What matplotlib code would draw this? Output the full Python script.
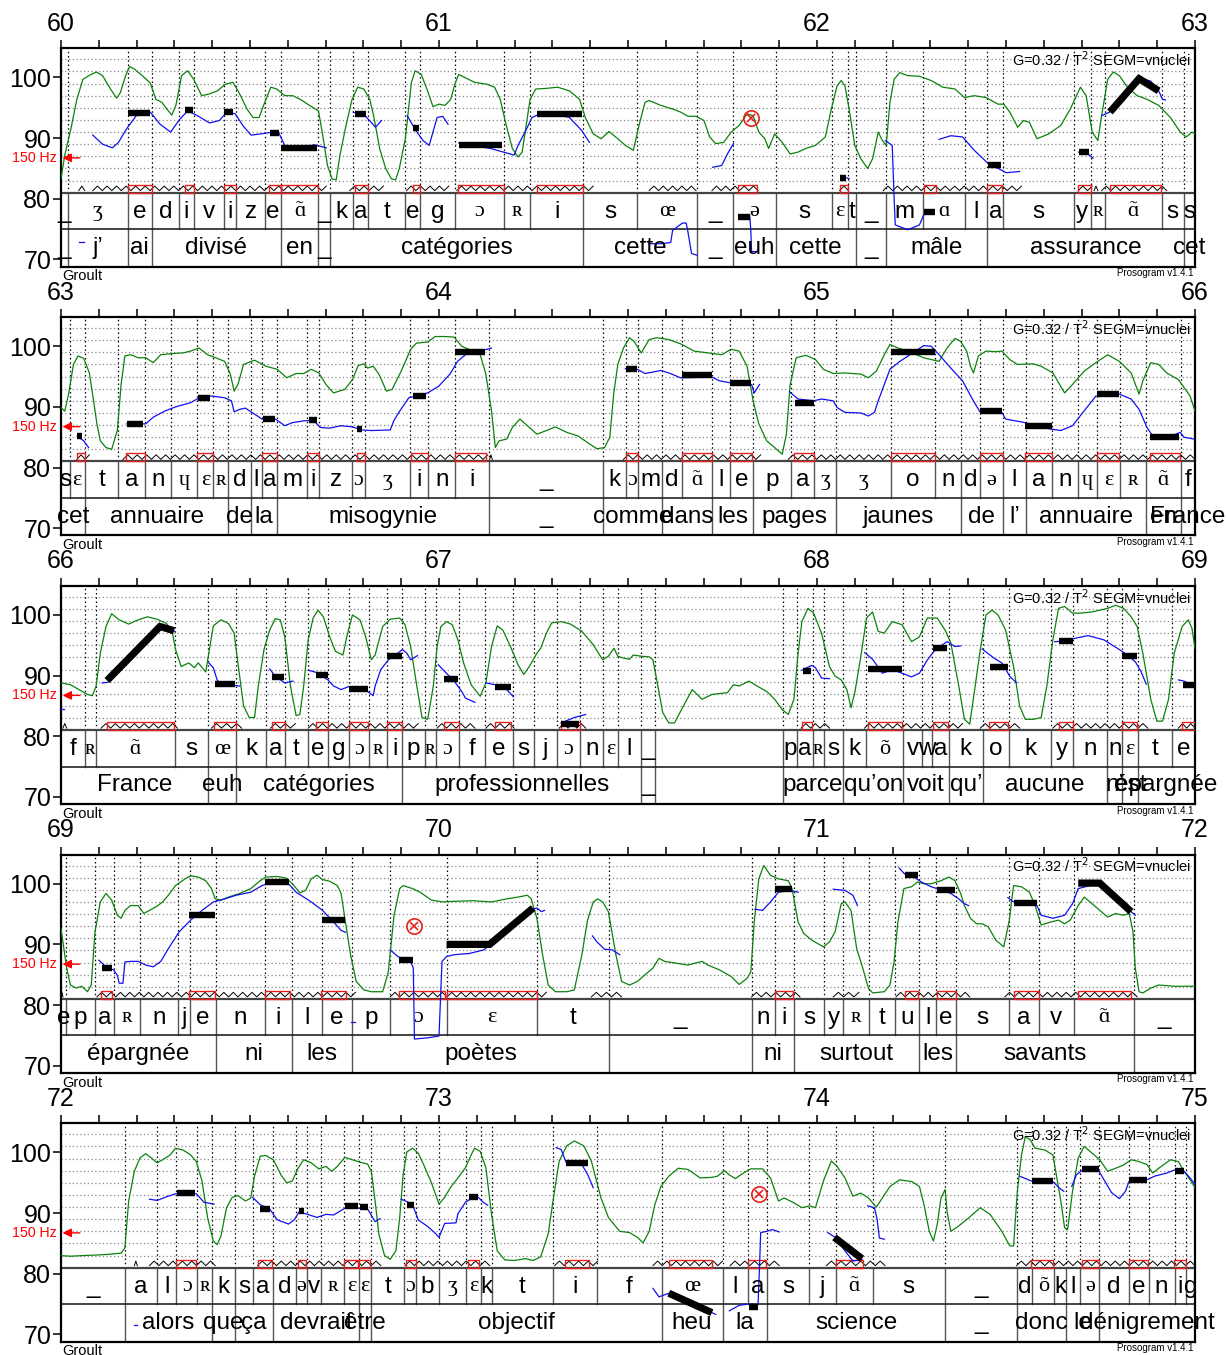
import numpy as np
import matplotlib.pyplot as plt
from matplotlib.patches import Rectangle
from matplotlib.ticker import MultipleLocator

plt.rcParams['font.family'] = ['Liberation Sans', 'DejaVu Sans']

# ---------------- panel 1 : 60-63 s ----------------
p1_phone_t = [60.000, 60.018, 60.176, 60.241, 60.311, 60.351, 60.431, 60.462, 60.541, 60.581, 60.681, 60.712, 60.773,
              60.812, 60.911, 60.951, 61.042, 61.173, 61.241, 61.382, 61.523, 61.683, 61.777, 61.891, 62.041, 62.081,
              62.102, 62.182, 62.280, 62.391, 62.451, 62.492, 62.679, 62.725, 62.761, 62.912, 62.970, 63.000]
p1_phones = ['_', 'ʒ', 'e', 'd', 'i', 'v', 'i', 'z', 'e', 'ɑ̃', '_', 'k', 'a', 't', 'e', 'g', 'ɔ', 'ʀ', 'i', 's',
             'œ', '_', 'ə', 's', 'ɛ', 't', '_', 'm', 'ɑ', 'l', 'a', 's', 'y', 'ʀ', 'ɑ̃', 's', 's']
p1_word_t = [60.000, 60.018, 60.176, 60.241, 60.581, 60.681, 60.712, 61.382, 61.683, 61.777, 61.891, 62.102, 62.182,
             62.451, 62.970, 63.000]
p1_words = ['_', 'j’', 'ai', 'divisé', 'en', '_', 'catégories', 'cette', '_', 'euh', 'cette', '_', 'mâle',
            'assurance', 'cet']
p1_green = [(60.000, 83.3), (60.010, 87.2), (60.026, 91.5), (60.042, 96.4), (60.058, 99.7), (60.079, 100.5),
            (60.094, 100.9), (60.110, 100.3), (60.131, 98.1), (60.147, 96.6), (60.157, 97.5), (60.171, 100.3),
            (60.181, 101.8), (60.194, 101.4), (60.215, 100.3), (60.236, 99.1), (60.251, 96.4), (60.267, 95.9),
            (60.280, 94.8), (60.293, 93.8), (60.304, 95.4), (60.319, 100.3), (60.335, 101.1), (60.351, 99.7),
            (60.372, 97.0), (60.393, 97.3), (60.414, 97.8), (60.435, 98.9), (60.455, 99.2), (60.471, 97.5),
            (60.492, 94.8), (60.508, 93.4), (60.524, 93.4), (60.539, 95.9), (60.555, 98.4), (60.571, 98.1),
            (60.592, 97.0), (60.613, 97.0), (60.633, 96.4), (60.665, 95.1), (60.681, 94.5), (60.691, 91.0),
            (60.705, 85.5), (60.717, 83.3), (60.728, 83.1), (60.738, 87.2), (60.754, 92.1), (60.770, 96.4),
            (60.785, 98.4), (60.801, 98.1), (60.817, 96.4), (60.827, 93.7), (60.843, 88.3), (60.859, 85.0),
            (60.874, 83.3), (60.885, 83.1), (60.895, 85.0), (60.911, 89.9), (60.927, 99.2), (60.937, 101.1),
            (60.953, 100.5), (60.968, 98.1), (60.984, 95.2), (61.000, 95.6), (61.016, 95.4), (61.031, 96.4),
            (61.042, 98.9), (61.052, 100.5), (61.068, 100.0), (61.094, 99.2), (61.126, 98.9), (61.147, 98.4),
            (61.162, 96.4), (61.178, 92.1), (61.194, 88.3), (61.209, 86.9), (61.220, 87.7), (61.241, 96.4),
            (61.256, 98.1), (61.283, 98.2), (61.314, 98.4), (61.345, 97.8), (61.372, 96.4), (61.387, 93.4),
            (61.408, 90.7), (61.429, 89.9), (61.450, 91.1), (61.473, 89.9), (61.493, 88.8), (61.514, 88.0),
            (61.530, 92.3), (61.545, 95.9), (61.556, 96.2), (61.587, 95.4), (61.618, 94.8), (61.639, 94.3),
            (61.659, 93.6), (61.680, 93.6), (61.701, 92.9), (61.716, 90.2), (61.732, 89.1), (61.753, 89.3),
            (61.773, 91.0), (61.794, 92.1), (61.815, 94.0), (61.831, 93.7), (61.846, 91.0), (61.862, 89.9),
            (61.872, 88.3), (61.888, 90.7), (61.908, 89.3), (61.929, 87.4), (61.950, 87.7), (61.970, 88.3),
            (61.996, 88.8), (62.022, 90.2), (62.038, 94.8), (62.053, 98.6), (62.064, 99.5), (62.074, 98.6),
            (62.085, 94.8), (62.100, 88.8), (62.116, 86.6), (62.134, 85.0), (62.147, 86.6), (62.162, 91.0),
            (62.173, 89.6), (62.183, 88.8), (62.193, 95.9), (62.204, 99.7), (62.219, 100.8), (62.240, 100.3),
            (62.271, 100.2), (62.302, 99.5), (62.333, 98.4), (62.365, 98.1), (62.390, 96.7), (62.416, 97.0),
            (62.447, 96.7), (62.479, 95.6), (62.494, 95.6), (62.510, 94.3), (62.531, 91.8), (62.546, 92.9),
            (62.562, 92.6), (62.582, 89.9), (62.613, 90.7), (62.645, 92.1), (62.670, 94.8), (62.697, 98.4),
            (62.712, 97.0), (62.728, 91.0), (62.743, 89.6), (62.753, 93.7), (62.769, 99.7), (62.784, 100.9),
            (62.800, 100.3), (62.821, 98.4), (62.847, 97.0), (62.873, 96.4), (62.904, 95.4), (62.935, 93.4),
            (62.961, 91.0), (62.977, 90.2), (62.992, 91.0), (63.000, 90.7)]
p1_blue = [
    [(60.047, 72.8), (60.060, 72.8)],
    [(60.084, 90.5), (60.110, 89.0), (60.136, 88.4), (60.152, 89.3), (60.173, 91.5), (60.199, 93.7), (60.236, 94.3),
     (60.262, 92.3), (60.290, 91.0), (60.314, 93.1), (60.335, 94.5), (60.361, 93.7), (60.393, 92.5), (60.419, 92.9),
     (60.440, 94.4), (60.461, 94.0), (60.482, 92.0), (60.503, 90.5), (60.529, 90.7), (60.560, 91.0), (60.576, 90.9),
     (60.592, 88.8), (60.634, 88.4), (60.670, 88.9), (60.702, 88.4)],
    [(60.773, 94.3), (60.806, 93.6), (60.832, 91.8), (60.848, 92.9)],
    [(60.916, 93.7), (60.937, 91.4), (60.958, 89.6), (60.974, 88.8), (60.984, 91.0), (60.995, 93.4), (61.010, 93.6),
     (61.024, 92.3)],
    [(61.052, 89.2), (61.136, 88.3), (61.188, 87.4), (61.199, 87.2), (61.209, 88.8), (61.230, 91.3), (61.246, 93.4),
     (61.267, 94.0), (61.304, 94.0), (61.345, 93.4), (61.377, 91.3), (61.398, 89.3)],
    [(61.556, 72.6), (61.587, 72.6), (61.613, 72.8), (61.618, 74.8), (61.644, 76.0), (61.654, 76.0), (61.659, 74.4),
     (61.668, 71.0), (61.682, 70.7)],
    [(61.724, 85.2), (61.748, 85.5), (61.763, 87.4), (61.779, 89.1)],
    [(61.792, 77.2), (61.822, 77.4), (61.825, 74.6), (61.827, 71.3), (61.841, 71.3)],
    [(62.076, 83.5), (62.085, 83.3)],
    [(62.181, 89.6), (62.199, 88.8), (62.204, 80.1), (62.207, 75.7), (62.240, 74.9), (62.271, 75.7), (62.282, 77.3),
     (62.292, 77.9)],
    [(62.323, 89.8), (62.354, 90.4), (62.385, 90.2), (62.416, 88.0), (62.448, 86.1), (62.463, 85.5), (62.489, 84.7),
     (62.500, 84.3), (62.536, 84.5)],
    [(62.692, 87.7), (62.717, 87.4), (62.730, 86.7)],
    [(62.753, 93.7), (62.774, 94.3), (62.852, 99.9), (62.883, 99.4), (62.904, 97.8), (62.914, 96.4), (62.922, 96.3)],
]
p1_style = [
    [(60.176, 94.1), (60.236, 94.1)], [(60.327, 94.6), (60.348, 94.6)], [(60.432, 94.3), (60.455, 94.3)],
    [(60.553, 90.9), (60.576, 90.9)], [(60.581, 88.3), (60.677, 88.3)], [(60.778, 93.9), (60.806, 93.9)],
    [(60.932, 91.7), (60.948, 91.7)], [(61.052, 88.8), (61.167, 88.8)], [(61.258, 93.9), (61.377, 93.9)],
    [(61.792, 77.0), (61.822, 77.0)], [(62.062, 83.5), (62.076, 83.5)], [(62.282, 77.9), (62.311, 77.9)],
    [(62.453, 85.5), (62.486, 85.5)], [(62.692, 87.7), (62.719, 87.7)],
    [(62.775, 94.3), (62.852, 99.8), (62.904, 97.8)],
]
p1_nuclei = [(60.176, 60.241), (60.327, 60.351), (60.431, 60.462), (60.551, 60.581), (60.581, 60.681),
             (60.777, 60.812), (60.932, 60.951), (61.050, 61.173), (61.258, 61.382), (61.791, 61.842),
             (62.060, 62.081), (62.282, 62.316), (62.451, 62.489), (62.691, 62.725), (62.776, 62.911)]
p1_zigzag = [(60.047, 60.063), (60.084, 60.702), (60.764, 60.853), (60.914, 61.026), (61.047, 61.408),
             (61.556, 61.680), (61.722, 61.844), (62.060, 62.083), (62.175, 62.541), (62.691, 62.728),
             (62.733, 62.743), (62.753, 62.925)]
p1_marks = [(61.826, 93.3)]

# ---------------- panel 2 : 63-66 s ----------------
p2_phone_t = [63.000, 63.023, 63.063, 63.152, 63.222, 63.292, 63.361, 63.403, 63.443, 63.502, 63.532, 63.572, 63.652,
              63.682, 63.771, 63.803, 63.923, 63.972, 64.043, 64.132, 64.433, 64.496, 64.527, 64.590, 64.642, 64.722,
              64.771, 64.831, 64.932, 64.992, 65.051, 65.196, 65.311, 65.381, 65.430, 65.492, 65.552, 65.621, 65.690,
              65.741, 65.801, 65.870, 65.962, 66.000]
p2_phones = ['s', 'ɛ', 't', 'a', 'n', 'ɥ', 'ɛ', 'ʀ', 'd', 'l', 'a', 'm', 'i', 'z', 'ɔ', 'ʒ', 'i', 'n', 'i', '_',
             'k', 'ɔ', 'm', 'd', 'ɑ̃', 'l', 'e', 'p', 'a', 'ʒ', 'ʒ', 'o', 'n', 'd', 'ə', 'l', 'a', 'n', 'ɥ', 'ɛ',
             'ʀ', 'ɑ̃', 'f']
p2_word_t = [63.000, 63.063, 63.443, 63.502, 63.572, 64.132, 64.433, 64.590, 64.722, 64.831, 65.051, 65.381, 65.492,
             65.552, 65.870, 65.962, 66.000]
p2_words = ['cet', 'annuaire', 'de', 'la', 'misogynie', '_', 'comme', 'dans', 'les', 'pages', 'jaunes', 'de', 'l’',
            'annuaire', 'en', 'France']
p2_green = [(63.000, 89.9), (63.010, 89.3), (63.020, 92.1), (63.033, 97.0), (63.045, 98.4), (63.060, 98.0),
            (63.075, 95.6), (63.085, 91.5), (63.095, 87.2), (63.104, 84.4), (63.119, 83.3), (63.134, 83.0),
            (63.149, 86.1), (63.159, 93.7), (63.169, 98.4), (63.184, 98.6), (63.204, 98.1), (63.224, 98.1),
            (63.244, 97.3), (63.264, 98.6), (63.294, 98.8), (63.323, 98.9), (63.343, 99.2), (63.365, 99.7),
            (63.388, 98.6), (63.413, 98.0), (63.433, 97.5), (63.448, 95.4), (63.458, 92.6), (63.468, 93.7),
            (63.483, 97.0), (63.512, 97.7), (63.542, 96.7), (63.572, 96.2), (63.597, 94.8), (63.622, 95.5),
            (63.642, 95.5), (63.662, 96.2), (63.682, 95.6), (63.701, 93.7), (63.721, 92.3), (63.751, 92.9),
            (63.771, 94.5), (63.786, 96.8), (63.801, 97.1), (63.811, 96.4), (63.826, 96.7), (63.841, 95.4),
            (63.861, 92.6), (63.876, 92.9), (63.900, 95.9), (63.925, 99.5), (63.940, 100.5), (63.970, 100.7),
            (63.990, 101.6), (64.015, 101.6), (64.040, 101.5), (64.060, 100.0), (64.090, 99.2), (64.109, 98.6),
            (64.124, 95.4), (64.139, 89.3), (64.149, 83.3), (64.159, 84.4), (64.179, 84.7), (64.194, 86.6),
            (64.214, 88.0), (64.239, 86.6), (64.259, 85.5), (64.284, 86.1), (64.308, 86.7), (64.338, 85.8),
            (64.368, 85.2), (64.398, 83.9), (64.418, 83.1), (64.438, 83.3), (64.452, 85.0), (64.462, 92.1),
            (64.473, 97.0), (64.488, 99.7), (64.504, 101.4), (64.516, 100.8), (64.535, 98.9), (64.556, 101.1),
            (64.576, 101.4), (64.608, 101.1), (64.639, 100.4), (64.675, 99.2), (64.711, 98.9), (64.748, 98.6),
            (64.773, 99.5), (64.794, 99.2), (64.815, 96.7), (64.831, 91.0), (64.846, 87.2), (64.867, 84.4),
            (64.888, 83.3), (64.908, 82.2), (64.919, 85.5), (64.929, 93.7), (64.945, 98.1), (64.971, 98.5),
            (64.996, 97.8), (65.017, 96.2), (65.043, 95.5), (65.074, 95.6), (65.116, 95.4), (65.136, 94.8),
            (65.157, 95.9), (65.178, 98.6), (65.193, 100.3), (65.214, 99.7), (65.240, 99.2), (65.282, 98.1),
            (65.302, 97.8), (65.323, 97.5), (65.344, 99.7), (65.365, 101.3), (65.380, 100.8), (65.396, 99.2),
            (65.406, 96.7), (65.414, 95.6), (65.427, 98.4), (65.447, 99.2), (65.473, 99.1), (65.489, 99.2),
            (65.510, 97.8), (65.530, 97.0), (65.572, 97.1), (65.593, 96.7), (65.624, 95.6), (65.655, 92.3),
            (65.676, 93.7), (65.707, 95.9), (65.738, 97.3), (65.769, 98.6), (65.800, 97.5), (65.831, 95.6),
            (65.852, 92.1), (65.862, 94.3), (65.883, 97.3), (65.904, 97.0), (65.925, 95.6), (65.956, 94.5),
            (65.987, 91.8), (66.000, 89.3)]
p2_blue = [
    [(63.043, 85.2), (63.060, 84.4), (63.073, 83.3)],
    [(63.174, 87.2), (63.224, 87.2), (63.244, 88.3), (63.274, 89.3), (63.303, 90.0), (63.343, 90.7), (63.363, 91.4),
     (63.398, 91.8), (63.433, 91.5), (63.451, 91.0), (63.458, 89.2), (63.473, 89.6), (63.488, 89.8), (63.512, 88.8),
     (63.532, 88.0), (63.567, 88.0), (63.592, 86.9), (63.612, 87.4), (63.642, 87.7), (63.667, 87.8), (63.687, 86.6),
     (63.711, 86.5), (63.741, 86.9), (63.771, 86.7), (63.796, 86.2), (63.821, 86.1), (63.871, 86.2), (63.881, 87.8),
     (63.896, 89.3), (63.920, 91.5), (63.940, 91.8), (63.970, 92.3), (63.999, 93.4), (64.029, 95.4), (64.049, 97.5),
     (64.070, 98.6), (64.109, 99.2), (64.139, 99.7)],
    [(64.493, 96.3), (64.525, 96.2), (64.545, 95.5), (64.587, 96.0), (64.608, 95.6), (64.639, 94.8), (64.722, 94.9),
     (64.742, 94.3), (64.794, 93.7), (64.827, 93.7), (64.834, 92.3), (64.848, 93.7)],
    [(64.927, 92.5), (64.950, 91.3), (64.991, 91.0), (65.012, 91.3), (65.043, 91.0), (65.053, 89.9), (65.074, 89.1),
     (65.116, 89.0), (65.136, 88.5), (65.152, 89.1), (65.162, 91.0), (65.178, 93.7), (65.193, 96.2), (65.219, 97.5),
     (65.261, 99.2), (65.282, 100.1), (65.302, 100.0), (65.323, 98.6), (65.354, 96.4), (65.385, 94.3), (65.411, 91.3),
     (65.432, 89.1), (65.489, 89.1), (65.499, 88.0), (65.551, 87.4), (65.593, 86.6), (65.645, 86.1), (65.676, 86.9),
     (65.696, 88.5), (65.738, 91.8), (65.800, 92.1), (65.831, 91.3), (65.852, 89.6), (65.873, 86.6), (65.888, 85.2),
     (65.945, 85.4), (65.961, 85.8), (65.971, 85.0), (65.997, 84.7)],
]
p2_style = [
    [(63.043, 85.2), (63.055, 85.2)], [(63.174, 87.2), (63.216, 87.2)], [(63.363, 91.5), (63.395, 91.5)],
    [(63.534, 88.0), (63.567, 88.0)], [(63.655, 87.8), (63.677, 87.8)], [(63.784, 86.4), (63.796, 86.4)],
    [(63.930, 91.8), (63.965, 91.8)], [(64.043, 99.0), (64.121, 99.0)], [(64.496, 96.3), (64.525, 96.3)],
    [(64.642, 95.2), (64.722, 95.2)], [(64.770, 93.9), (64.825, 93.9)], [(64.941, 90.7), (64.991, 90.7)],
    [(65.196, 99.1), (65.311, 99.1)], [(65.432, 89.3), (65.489, 89.3)], [(65.551, 86.9), (65.621, 86.9)],
    [(65.740, 92.2), (65.800, 92.2)], [(65.881, 85.0), (65.958, 85.0)],
]
p2_nuclei = [(63.042, 63.063), (63.172, 63.222), (63.361, 63.403), (63.532, 63.572), (63.652, 63.682),
             (63.783, 63.803), (63.927, 63.972), (64.043, 64.124), (64.496, 64.527), (64.642, 64.722),
             (64.770, 64.827), (64.939, 64.991), (65.196, 65.311), (65.430, 65.491), (65.551, 65.621),
             (65.740, 65.800), (65.881, 65.961)]
p2_zigzag = [(63.042, 63.075), (63.164, 64.129), (64.134, 64.141), (64.488, 64.851), (64.924, 66.000)]
p2_marks = []

# ---------------- panel 3 : 66-69 s ----------------
p3_phone_t = [66.000, 66.063, 66.093, 66.301, 66.390, 66.463, 66.542, 66.592, 66.654, 66.706, 66.763, 66.814, 66.863,
              66.902, 66.962, 66.992, 67.052, 67.122, 67.195, 67.252, 67.311, 67.374, 67.435, 67.473, 67.535, 67.572,
              67.909, 67.948, 67.989, 68.018, 68.070, 68.130, 68.228, 68.278, 68.305, 68.350, 68.438, 68.508, 68.619,
              68.676, 68.768, 68.808, 68.848, 68.938, 69.000]
p3_phones = ['f', 'ʀ', 'ɑ̃', 's', 'œ', 'k', 'a', 't', 'e', 'g', 'ɔ', 'ʀ', 'i', 'p', 'ʀ', 'ɔ', 'f', 'e', 's', 'j',
             'ɔ', 'n', 'ɛ', 'l', '_', '', 'p', 'a', 'ʀ', 's', 'k', 'õ', 'v', 'w', 'a', 'k', 'o', 'k', 'y', 'n',
             'n', 'ɛ', 't', 'e']
p3_word_t = [66.000, 66.390, 66.463, 66.902, 67.535, 67.572, 67.909, 68.070, 68.228, 68.350, 68.438, 68.768, 68.808,
             68.848, 69.000]
p3_words = ['France', 'euh', 'catégories', 'professionnelles', '_', '', 'parce', 'qu’on', 'voit', 'qu’', 'aucune',
            'n’', 'est', 'épargnée']
p3_green = [(66.000, 88.8), (66.025, 88.5), (66.050, 87.6), (66.070, 86.9), (66.083, 86.7), (66.093, 88.3),
            (66.104, 93.7), (66.119, 98.1), (66.134, 100.2), (66.154, 99.2), (66.179, 98.5), (66.204, 99.2),
            (66.229, 99.7), (66.254, 99.3), (66.279, 98.6), (66.294, 97.3), (66.303, 94.3), (66.318, 91.5),
            (66.338, 92.1), (66.353, 91.3), (66.363, 92.1), (66.383, 90.6), (66.391, 93.7), (66.403, 98.2),
            (66.423, 99.2), (66.443, 98.6), (66.458, 97.0), (66.468, 92.1), (66.483, 85.0), (66.498, 83.1),
            (66.512, 83.1), (66.522, 88.3), (66.537, 94.3), (66.552, 97.5), (66.567, 99.4), (66.580, 99.2),
            (66.592, 96.4), (66.607, 88.3), (66.622, 83.4), (66.632, 83.6), (66.642, 88.3), (66.654, 95.9),
            (66.667, 99.5), (66.680, 100.8), (66.694, 99.7), (66.711, 96.4), (66.726, 94.0), (66.746, 93.4),
            (66.756, 96.4), (66.771, 100.0), (66.791, 99.2), (66.806, 96.4), (66.821, 92.6), (66.831, 93.4),
            (66.851, 98.1), (66.871, 99.3), (66.896, 99.5), (66.910, 98.4), (66.925, 94.8), (66.940, 88.8),
            (66.955, 83.1), (66.970, 82.8), (66.985, 88.3), (66.995, 94.8), (67.005, 98.1), (67.020, 98.9),
            (67.035, 98.4), (67.050, 95.9), (67.065, 92.1), (67.085, 88.5), (67.109, 86.6), (67.124, 88.8),
            (67.139, 94.8), (67.154, 98.2), (67.169, 97.5), (67.189, 94.8), (67.209, 91.8), (67.224, 90.2),
            (67.239, 91.5), (67.259, 93.7), (67.269, 94.5), (67.284, 97.0), (67.298, 98.7), (67.323, 98.9),
            (67.348, 98.5), (67.378, 97.3), (67.408, 95.1), (67.433, 92.6), (67.448, 93.2), (67.463, 94.5),
            (67.473, 93.2), (67.488, 92.9), (67.504, 92.7), (67.514, 93.4), (67.535, 93.2), (67.556, 93.1),
            (67.566, 92.6), (67.576, 89.3), (67.592, 83.9), (67.608, 82.2), (67.623, 82.2), (67.644, 84.7),
            (67.670, 87.7), (67.696, 86.1), (67.722, 86.9), (67.763, 87.2), (67.779, 88.5), (67.794, 88.3),
            (67.820, 89.1), (67.841, 88.3), (67.867, 87.4), (67.888, 86.1), (67.908, 84.4), (67.924, 83.6),
            (67.939, 86.1), (67.950, 93.7), (67.960, 98.9), (67.976, 101.1), (67.991, 100.3), (68.012, 97.0),
            (68.033, 91.5), (68.048, 89.9), (68.064, 89.3), (68.079, 87.7), (68.090, 84.7), (68.100, 87.2),
            (68.116, 93.2), (68.131, 99.5), (68.147, 100.5), (68.162, 97.3), (68.178, 97.0), (68.199, 98.9),
            (68.225, 98.4), (68.250, 95.6), (68.271, 96.4), (68.292, 99.5), (68.318, 99.5), (68.339, 97.5),
            (68.354, 95.4), (68.375, 88.3), (68.390, 82.8), (68.404, 82.0), (68.416, 87.2), (68.432, 94.3),
            (68.447, 100.0), (68.463, 100.8), (68.479, 100.0), (68.499, 97.5), (68.520, 91.5), (68.536, 85.0),
            (68.551, 82.8), (68.572, 82.8), (68.593, 83.1), (68.608, 88.3), (68.624, 95.9), (68.639, 101.1),
            (68.655, 101.4), (68.676, 100.3), (68.696, 100.3), (68.728, 100.5), (68.769, 101.1), (68.790, 101.6),
            (68.811, 101.1), (68.831, 99.7), (68.847, 98.1), (68.862, 93.7), (68.883, 86.1), (68.899, 82.5),
            (68.914, 82.5), (68.930, 86.1), (68.945, 93.7), (68.966, 98.1), (68.982, 99.2), (68.992, 97.8),
            (69.000, 94.5)]
p3_blue = [
    [(66.000, 84.5), (66.007, 84.5)],
    [(66.109, 88.8), (66.124, 88.9), (66.262, 98.4), (66.284, 97.8), (66.301, 97.3)],
    [(66.391, 92.1), (66.403, 91.3), (66.413, 89.3), (66.423, 88.6), (66.473, 88.3)],
    [(66.552, 91.1), (66.567, 89.9), (66.592, 88.8), (66.614, 89.1)],
    [(66.654, 90.9), (66.677, 90.5), (66.706, 89.3), (66.721, 88.3), (66.741, 87.7), (66.761, 88.2), (66.781, 87.7),
     (66.811, 87.4), (66.826, 86.7), (66.831, 88.3), (66.846, 91.0), (66.866, 92.6), (66.891, 93.7), (66.903, 94.3),
     (66.915, 93.7), (66.925, 92.6), (66.943, 93.3)],
    [(66.998, 91.8), (67.015, 90.7), (67.040, 89.1), (67.060, 87.4), (67.070, 86.3), (67.095, 85.6)],
    [(67.124, 88.8), (67.149, 88.5), (67.179, 87.7), (67.197, 86.5)],
    [(67.323, 82.2), (67.358, 83.1), (67.388, 83.6)],
    [(67.960, 90.9), (67.986, 91.7), (67.996, 91.3), (68.012, 89.6), (68.033, 89.5)],
    [(68.126, 93.8), (68.147, 92.7), (68.173, 90.4), (68.199, 91.0), (68.225, 90.4), (68.250, 89.8), (68.271, 90.4),
     (68.292, 92.6), (68.313, 94.3), (68.344, 95.6), (68.365, 94.8), (68.380, 94.9)],
    [(68.437, 94.4), (68.468, 92.9), (68.489, 92.1), (68.510, 89.9), (68.528, 88.8)],
    [(68.629, 95.6), (68.655, 95.7), (68.686, 96.2), (68.717, 96.6), (68.759, 95.9), (68.800, 94.3), (68.821, 93.4),
     (68.842, 92.3), (68.857, 90.7), (68.871, 88.6)],
    [(68.956, 89.3), (68.971, 89.1), (69.000, 88.3)],
]
p3_style = [
    [(66.122, 89.2), (66.262, 98.1), (66.299, 97.4)], [(66.408, 88.6), (66.461, 88.6)],
    [(66.559, 89.7), (66.590, 89.7)], [(66.675, 90.1), (66.706, 90.1)], [(66.763, 87.8), (66.811, 87.8)],
    [(66.863, 93.2), (66.902, 93.2)], [(67.013, 89.5), (67.050, 89.5)], [(67.149, 88.1), (67.191, 88.1)],
    [(67.323, 82.1), (67.370, 82.1)], [(67.962, 90.7), (67.983, 90.7)], [(68.136, 91.1), (68.225, 91.1)],
    [(68.307, 94.6), (68.344, 94.6)], [(68.458, 91.5), (68.505, 91.5)], [(68.641, 95.7), (68.676, 95.7)],
    [(68.808, 93.3), (68.847, 93.3)], [(68.968, 88.4), (69.000, 88.4)],
]
p3_nuclei = [(66.122, 66.299), (66.406, 66.463), (66.557, 66.592), (66.674, 66.706), (66.763, 66.811),
             (66.863, 66.902), (67.013, 67.052), (67.147, 67.191), (67.323, 67.372), (67.960, 67.988),
             (68.136, 68.225), (68.307, 68.346), (68.456, 68.505), (68.639, 68.676), (68.808, 68.847),
             (68.966, 69.000)]
p3_zigzag = [(66.005, 66.015), (66.106, 66.308), (66.398, 66.478), (66.554, 66.620), (66.654, 66.945),
             (66.995, 67.095), (67.124, 67.199), (67.318, 67.388), (67.958, 68.033), (68.126, 68.385),
             (68.432, 68.536), (68.624, 68.875), (68.956, 69.000)]
p3_marks = []

# ---------------- panel 4 : 69-72 s ----------------
p4_phone_t = [69.000, 69.013, 69.090, 69.139, 69.209, 69.310, 69.340, 69.410, 69.539, 69.610, 69.690, 69.769, 69.871,
              70.020, 70.259, 70.450, 70.828, 70.888, 70.940, 71.018, 71.070, 71.137, 71.207, 71.270, 71.316, 71.367,
              71.508, 71.588, 71.679, 71.839, 72.000]
p4_phones = ['e', 'p', 'a', 'ʀ', 'n', 'j', 'e', 'n', 'i', 'l', 'e', 'p', 'ɔ', 'ɛ', 't', '_', 'n', 'i', 's', 'y',
             'ʀ', 't', 'u', 'l', 'e', 's', 'a', 'v', 'ɑ̃', '_']
p4_word_t = [69.000, 69.410, 69.610, 69.769, 70.450, 70.828, 70.940, 71.270, 71.367, 71.839, 72.000]
p4_words = ['épargnée', 'ni', 'les', 'poètes', '', 'ni', 'surtout', 'les', 'savants', '']
p4_green = [(69.000, 92.6), (69.005, 90.4), (69.015, 86.1), (69.025, 83.3), (69.040, 82.8), (69.055, 83.1),
            (69.070, 82.2), (69.080, 83.3), (69.090, 92.1), (69.104, 97.0), (69.119, 98.4), (69.134, 97.3),
            (69.149, 94.8), (69.159, 94.3), (69.169, 95.6), (69.184, 96.4), (69.204, 96.4), (69.219, 95.1),
            (69.234, 95.6), (69.254, 96.3), (69.269, 97.0), (69.284, 98.1), (69.303, 99.7), (69.328, 100.8),
            (69.343, 101.3), (69.363, 101.1), (69.383, 100.5), (69.398, 99.2), (69.408, 97.5), (69.423, 97.3),
            (69.443, 97.8), (69.473, 98.4), (69.502, 99.2), (69.527, 100.5), (69.542, 101.1), (69.572, 101.2),
            (69.597, 100.9), (69.612, 100.0), (69.632, 98.5), (69.647, 98.9), (69.662, 100.8), (69.677, 101.4),
            (69.692, 100.7), (69.711, 100.4), (69.731, 99.7), (69.741, 98.4), (69.751, 94.3), (69.766, 88.3),
            (69.781, 83.9), (69.801, 82.5), (69.821, 82.2), (69.851, 82.2), (69.866, 85.5), (69.881, 94.8),
            (69.896, 99.2), (69.905, 99.7), (69.930, 99.2), (69.950, 98.6), (69.980, 97.3), (70.010, 97.0),
            (70.040, 97.1), (70.090, 97.2), (70.139, 97.0), (70.179, 97.5), (70.209, 97.8), (70.234, 98.1),
            (70.244, 97.5), (70.259, 94.3), (70.274, 88.3), (70.289, 83.3), (70.308, 82.2), (70.338, 82.2),
            (70.358, 82.5), (70.378, 88.3), (70.393, 94.0), (70.408, 97.0), (70.420, 97.5), (70.433, 97.0),
            (70.448, 95.4), (70.468, 88.3), (70.483, 83.9), (70.504, 83.3), (70.525, 83.9), (70.545, 85.0),
            (70.566, 86.1), (70.582, 87.7), (70.597, 87.2), (70.628, 86.9), (70.659, 86.6), (70.696, 87.2),
            (70.711, 86.6), (70.742, 85.8), (70.773, 84.7), (70.794, 83.4), (70.815, 84.4), (70.825, 85.5),
            (70.834, 93.7), (70.846, 100.8), (70.859, 103.0), (70.877, 101.4), (70.898, 100.8), (70.924, 100.5),
            (70.934, 99.2), (70.950, 93.7), (70.965, 91.8), (70.986, 90.7), (71.017, 89.6), (71.033, 90.4),
            (71.048, 92.1), (71.064, 96.7), (71.074, 97.0), (71.090, 95.6), (71.105, 89.3), (71.121, 86.1),
            (71.136, 82.8), (71.147, 82.0), (71.178, 82.2), (71.193, 83.3), (71.204, 87.2), (71.214, 93.7),
            (71.230, 99.2), (71.250, 99.5), (71.266, 100.3), (71.282, 100.0), (71.302, 100.0), (71.328, 100.5),
            (71.349, 101.1), (71.365, 100.5), (71.380, 98.4), (71.390, 96.4), (71.406, 94.3), (71.422, 93.4),
            (71.437, 93.4), (71.453, 92.9), (71.473, 90.7), (71.494, 89.6), (71.508, 93.7), (71.520, 99.7),
            (71.541, 99.5), (71.562, 98.6), (71.577, 96.4), (71.593, 93.2), (71.619, 93.7), (71.639, 94.0),
            (71.655, 93.4), (71.670, 94.0), (71.691, 96.4), (71.707, 97.8), (71.722, 97.0), (71.743, 95.9),
            (71.769, 94.5), (71.790, 95.1), (71.810, 94.8), (71.826, 95.1), (71.836, 92.1), (71.842, 86.1),
            (71.852, 82.2), (71.862, 82.0), (71.883, 82.8), (71.904, 83.3), (71.945, 83.1), (72.000, 83.1)]
p4_blue = [
    [(69.100, 87.4), (69.119, 86.3), (69.139, 85.8), (69.149, 84.9), (69.154, 83.6), (69.164, 83.6), (69.169, 87.1),
     (69.184, 87.2), (69.204, 87.2), (69.224, 86.6), (69.244, 86.3), (69.264, 87.2), (69.284, 89.3), (69.313, 92.1),
     (69.343, 94.0), (69.373, 95.6), (69.403, 97.0), (69.433, 97.5), (69.463, 98.1), (69.502, 98.6), (69.532, 99.7),
     (69.562, 100.3), (69.602, 100.0), (69.622, 98.6), (69.642, 97.8), (69.662, 97.0), (69.692, 95.6),
     (69.721, 93.7), (69.741, 92.3), (69.753, 92.0)],
    [(69.766, 77.2), (69.779, 77.2)],
    [(69.871, 89.1), (69.891, 88.0), (69.925, 87.2), (69.932, 86.1), (69.935, 74.4), (69.970, 74.6), (70.000, 74.9),
     (70.008, 87.2), (70.020, 88.0), (70.040, 88.3), (70.080, 88.5), (70.119, 89.1), (70.139, 90.2), (70.159, 91.5),
     (70.189, 93.2), (70.229, 95.4), (70.259, 96.0), (70.271, 95.4), (70.279, 95.6)],
    [(70.406, 91.4), (70.418, 90.4), (70.438, 89.2), (70.458, 89.1), (70.478, 88.3)],
    [(70.836, 95.8), (70.856, 95.6), (70.877, 97.0), (70.898, 98.6), (70.929, 98.9), (70.950, 98.6)],
    [(71.043, 99.1), (71.074, 98.9), (71.095, 98.1), (71.107, 96.4)],
    [(71.217, 102.6), (71.232, 101.6), (71.256, 101.1), (71.276, 100.3), (71.302, 99.5), (71.333, 98.9),
     (71.354, 98.4), (71.375, 97.5), (71.390, 96.7), (71.401, 96.4)],
    [(71.505, 97.7), (71.520, 97.0), (71.582, 96.4), (71.593, 94.8), (71.624, 94.3), (71.655, 94.8), (71.676, 96.7),
     (71.691, 99.2), (71.748, 100.1), (71.790, 97.8), (71.831, 95.4), (71.842, 94.8)],
]
p4_style = [
    [(69.109, 86.1), (69.136, 86.1)], [(69.338, 94.9), (69.408, 94.9)], [(69.539, 100.3), (69.604, 100.3)],
    [(69.690, 94.0), (69.751, 94.0)], [(69.893, 87.4), (69.930, 87.4)],
    [(70.020, 90.0), (70.134, 90.0), (70.249, 96.0)], [(70.888, 99.2), (70.934, 99.2)],
    [(71.232, 101.4), (71.266, 101.4)], [(71.318, 98.9), (71.365, 98.9)], [(71.522, 96.9), (71.582, 96.9)],
    [(71.691, 100.1), (71.748, 100.1), (71.831, 95.4)],
]
p4_nuclei = [(69.106, 69.136), (69.338, 69.408), (69.539, 69.607), (69.689, 69.753), (69.893, 70.015),
             (70.020, 70.259), (70.888, 70.936), (71.232, 71.268), (71.318, 71.367), (71.520, 71.588),
             (71.691, 71.831)]
p4_zigzag = [(69.000, 69.005), (69.095, 69.779), (69.871, 70.284), (70.403, 70.483), (70.827, 70.955),
             (71.043, 71.111), (71.209, 71.404), (71.497, 71.847)]
p4_marks = [(69.935, 93.1)]

# ---------------- panel 5 : 72-75 s ----------------
p5_phone_t = [72.000, 72.169, 72.254, 72.305, 72.361, 72.400, 72.461, 72.509, 72.560, 72.622, 72.650, 72.689, 72.749,
              72.789, 72.821, 72.908, 72.940, 73.000, 73.072, 73.111, 73.139, 73.301, 73.418, 73.589, 73.750, 73.817,
              73.869, 73.979, 74.049, 74.147, 74.339, 74.529, 74.570, 74.627, 74.659, 74.697, 74.747, 74.825, 74.877,
              74.946, 74.977, 75.000]
p5_phones = ['_', 'a', 'l', 'ɔ', 'ʀ', 'k', 's', 'a', 'd', 'ə', 'v', 'ʀ', 'ɛ', 'ɛ', 't', 'ɔ', 'b', 'ʒ', 'ɛ', 'k',
             't', 'i', 'f', 'œ', 'l', 'a', 's', 'j', 'ɑ̃', 's', '_', 'd', 'õ', 'k', 'l', 'ə', 'd', 'e', 'n', 'i', 'g']
p5_word_t = [72.000, 72.169, 72.400, 72.461, 72.560, 72.789, 72.821, 73.589, 73.750, 73.869, 74.339, 74.529, 74.659,
             74.747, 75.000]
p5_words = ['', 'alors', 'que', 'ça', 'devrait', 'être', 'objectif', 'heu', 'la', 'science', '_', 'donc', 'le',
            'dénigrement']
p5_green = [(72.000, 83.0), (72.025, 82.9), (72.055, 83.0), (72.095, 83.1), (72.124, 83.2), (72.159, 83.4),
            (72.169, 84.3), (72.179, 92.0), (72.194, 96.9), (72.209, 99.1), (72.224, 99.8), (72.239, 99.1),
            (72.254, 98.3), (72.269, 98.8), (72.289, 99.6), (72.303, 100.7), (72.323, 100.4), (72.343, 99.6),
            (72.358, 98.5), (72.373, 95.3), (72.388, 89.2), (72.403, 85.4), (72.413, 84.8), (72.423, 86.2),
            (72.438, 90.9), (72.453, 92.6), (72.468, 92.9), (72.488, 92.0), (72.502, 92.5), (72.512, 96.1),
            (72.527, 99.4), (72.542, 99.5), (72.562, 98.8), (72.582, 96.3), (72.597, 95.0), (72.612, 95.3),
            (72.627, 97.4), (72.642, 98.8), (72.662, 98.3), (72.682, 97.3), (72.701, 97.7), (72.716, 96.9),
            (72.731, 97.7), (72.751, 99.2), (72.771, 98.8), (72.791, 98.4), (72.811, 98.1), (72.821, 96.9),
            (72.831, 92.0), (72.841, 86.5), (72.856, 83.0), (72.871, 82.4), (72.886, 83.8), (72.896, 89.2),
            (72.905, 96.3), (72.915, 100.1), (72.930, 100.7), (72.945, 99.9), (72.960, 97.9), (72.980, 95.0),
            (73.000, 91.5), (73.015, 92.6), (73.030, 94.2), (73.050, 95.8), (73.070, 97.5), (73.085, 99.6),
            (73.094, 100.7), (73.109, 100.2), (73.124, 97.5), (73.139, 89.8), (73.154, 83.8), (73.174, 82.3),
            (73.199, 82.2), (73.229, 82.5), (73.249, 82.2), (73.269, 82.8), (73.289, 86.6), (73.303, 92.6),
            (73.318, 98.6), (73.338, 101.1), (73.358, 101.9), (73.383, 101.1), (73.403, 98.6), (73.428, 92.6),
            (73.448, 89.3), (73.478, 87.0), (73.504, 86.8), (73.525, 86.0), (73.540, 85.1), (73.556, 87.0),
            (73.571, 91.4), (73.587, 94.4), (73.608, 96.1), (73.633, 97.4), (73.659, 97.2), (73.691, 95.8),
            (73.722, 95.9), (73.737, 96.1), (73.755, 97.0), (73.768, 96.3), (73.784, 95.7), (73.805, 96.6),
            (73.825, 97.3), (73.856, 97.3), (73.877, 95.8), (73.898, 92.0), (73.913, 92.5), (73.939, 91.7),
            (73.960, 90.9), (73.981, 91.2), (73.996, 90.9), (74.017, 95.3), (74.038, 98.6), (74.053, 97.7),
            (74.074, 95.8), (74.095, 92.8), (74.116, 93.3), (74.136, 92.5), (74.157, 91.0), (74.173, 92.5),
            (74.193, 94.4), (74.219, 95.5), (74.251, 95.2), (74.271, 94.4), (74.282, 91.7), (74.297, 87.0),
            (74.308, 85.4), (74.318, 88.1), (74.328, 92.5), (74.339, 93.9), (74.344, 90.3), (74.354, 87.0),
            (74.375, 87.9), (74.401, 89.2), (74.432, 90.9), (74.458, 89.8), (74.489, 87.0), (74.510, 84.6),
            (74.520, 84.6), (74.530, 93.6), (74.541, 99.6), (74.551, 102.6), (74.564, 102.1), (74.577, 100.7),
            (74.603, 100.4), (74.624, 99.6), (74.645, 92.0), (74.655, 87.6), (74.663, 87.3), (74.676, 93.6),
            (74.691, 99.1), (74.707, 101.0), (74.722, 100.2), (74.748, 98.8), (74.769, 96.9), (74.790, 97.4),
            (74.810, 97.9), (74.831, 98.8), (74.852, 98.5), (74.873, 98.0), (74.888, 96.6), (74.904, 97.4),
            (74.935, 98.8), (74.956, 98.5), (74.971, 96.9), (74.987, 95.5), (75.000, 94.2)]
p5_blue = [
    [(72.194, 71.5), (72.202, 71.5)],
    [(72.234, 92.3), (72.254, 92.1), (72.284, 92.8), (72.308, 93.3), (72.358, 93.2), (72.378, 91.8), (72.405, 91.5)],
    [(72.507, 92.6), (72.527, 91.4), (72.552, 90.7), (72.572, 88.9), (72.602, 88.2), (72.617, 88.9), (72.630, 90.2),
     (72.652, 89.8), (72.677, 89.3), (72.701, 89.8), (72.721, 89.7), (72.751, 90.8), (72.786, 90.8), (72.811, 90.7),
     (72.831, 88.6), (72.844, 89.1)],
    [(72.900, 92.3), (72.915, 91.9), (72.930, 91.4), (72.945, 88.9), (72.970, 87.8), (72.990, 86.7), (73.000, 86.0),
     (73.015, 88.3), (73.045, 88.4), (73.050, 89.9), (73.070, 91.8), (73.090, 92.6), (73.104, 92.6), (73.117, 91.8),
     (73.129, 91.3)],
    [(73.310, 100.8), (73.323, 100.5), (73.338, 98.1), (73.378, 98.0), (73.393, 96.4), (73.408, 94.2)],
    [(73.566, 77.6), (73.582, 76.2), (73.608, 76.8), (73.722, 73.6), (73.732, 73.3)],
    [(73.768, 73.9), (73.794, 74.8), (73.817, 75.0), (73.844, 74.9), (73.848, 81.3), (73.851, 86.8), (73.867, 87.0),
     (73.882, 87.3), (73.900, 86.9)],
    [(74.028, 86.8), (74.046, 86.1), (74.074, 83.8), (74.095, 82.1), (74.119, 82.4)],
    [(74.134, 91.2), (74.152, 90.9), (74.159, 89.0), (74.165, 85.9), (74.178, 85.7)],
    [(74.536, 96.1), (74.567, 95.3), (74.624, 95.2), (74.640, 94.2), (74.653, 93.6)],
    [(74.674, 94.4), (74.686, 96.3), (74.702, 97.1), (74.746, 96.9), (74.764, 95.0), (74.779, 93.4), (74.800, 92.4),
     (74.816, 93.6), (74.826, 95.3), (74.873, 95.5), (74.893, 96.1), (74.925, 96.6), (74.945, 97.1), (74.971, 96.9),
     (74.987, 95.8), (75.000, 94.7)],
]
p5_style = [
    [(72.308, 93.3), (72.355, 93.3)], [(72.527, 90.7), (72.554, 90.7)], [(72.630, 90.3), (72.644, 90.3)],
    [(72.751, 91.1), (72.786, 91.1)], [(72.791, 91.0), (72.811, 91.0)], [(72.915, 91.4), (72.935, 91.4)],
    [(73.080, 92.7), (73.104, 92.7)], [(73.335, 98.2), (73.395, 98.2)], [(73.608, 76.8), (73.722, 73.6)],
    [(73.820, 74.5), (73.844, 74.5)], [(74.046, 86.0), (74.119, 82.5)], [(74.569, 95.3), (74.624, 95.3)],
    [(74.702, 97.2), (74.746, 97.2)], [(74.826, 95.5), (74.873, 95.5)], [(74.947, 97.0), (74.971, 97.0)],
]
p5_nuclei = [(72.305, 72.358), (72.522, 72.557), (72.628, 72.648), (72.749, 72.787), (72.789, 72.817),
             (72.912, 72.938), (73.078, 73.107), (73.333, 73.398), (73.608, 73.722), (73.817, 73.865),
             (74.049, 74.121), (74.567, 74.624), (74.700, 74.746), (74.826, 74.875), (74.945, 74.976)]
p5_zigzag = [(72.194, 72.202), (72.234, 72.408), (72.520, 72.846), (72.910, 73.134), (73.306, 73.420),
             (73.566, 73.750), (73.770, 73.900), (74.025, 74.180), (74.528, 75.000)]
p5_marks = [(73.846, 93.1)]

panels = [
    (60, p1_phone_t, p1_phones, p1_word_t, p1_words, p1_green, p1_blue, p1_style, p1_nuclei, p1_zigzag, p1_marks),
    (63, p2_phone_t, p2_phones, p2_word_t, p2_words, p2_green, p2_blue, p2_style, p2_nuclei, p2_zigzag, p2_marks),
    (66, p3_phone_t, p3_phones, p3_word_t, p3_words, p3_green, p3_blue, p3_style, p3_nuclei, p3_zigzag, p3_marks),
    (69, p4_phone_t, p4_phones, p4_word_t, p4_words, p4_green, p4_blue, p4_style, p4_nuclei, p4_zigzag, p4_marks),
    (72, p5_phone_t, p5_phones, p5_word_t, p5_words, p5_green, p5_blue, p5_style, p5_nuclei, p5_zigzag, p5_marks),
]

REF_150HZ = 12 * np.log2(150)
IPA = set('ʒɔʀɑɛəɥœõ')
RED = '#e8201c'
YLO, YHI = 68.81, 104.81
SERIF = ['Liberation Serif', 'DejaVu Serif']


def tier_labels(ax, t0, bounds, labels, ymid):
    for a, b, lab in zip(bounds[:-1], bounds[1:], labels):
        if not lab:
            continue
        xm = (max(a, t0) + min(b, t0 + 3)) / 2
        if '\u0303' in lab:
            # nasal vowel: base glyph plus a spacing tilde drawn on top
            base = lab.replace('\u0303', '')
            ax.text(xm, ymid, base, ha='center', va='center', fontsize=16, family=SERIF, clip_on=False, zorder=9)
            ax.text(xm, ymid, '\u02dc', ha='center', va='center', fontsize=16, family=SERIF, clip_on=False,
                    zorder=9)
        elif any(c in IPA for c in lab):
            ax.text(xm, ymid, lab, ha='center', va='center', fontsize=16, family=SERIF, clip_on=False, zorder=9)
        else:
            ax.text(xm, ymid, lab, ha='center', va='center', fontsize=17.5, clip_on=False, zorder=9)


def zigzag(ax, a, b):
    n = max(2, int(round((b - a) / 0.0125)))
    xs = np.linspace(a, b, n + 1)
    ys = np.where(np.arange(n + 1) % 2 == 0, 81.35, 82.1)
    ax.plot(xs, ys, color='black', lw=0.7, zorder=3)


def draw_panel(ax, t0, phone_t, phones, word_t, words, green, blue, style, nuclei, zz, marks):
    ax.set_xlim(t0, t0 + 3)
    ax.set_ylim(YLO, YHI)
    for v in range(83, 105, 2):
        ax.axhline(v, color='#8a8a8a', ls=(0, (1, 2)), lw=0.9, zorder=1)
    for t in phone_t[1:-1]:
        ax.plot([t, t], [81, YHI], color='black', ls=(0, (1.2, 2.2)), lw=0.9, zorder=1)
        ax.plot([t, t], [75, 81], color='#555555', lw=1.0, zorder=2)
    for t in word_t[1:-1]:
        ax.plot([t, t], [YLO, 75], color='#555555', lw=1.0, zorder=2)
    ax.axhline(81, color='#444444', lw=1.6, zorder=2)
    ax.axhline(75, color='#222222', lw=1.2, zorder=2)

    for a, b in zz:
        zigzag(ax, a, b)
    for a, b in nuclei:
        ax.add_patch(Rectangle((a, 81.0), b - a, 1.35, fill=False, ec=RED, lw=1.0, zorder=4))

    g = np.array(green)
    ax.plot(g[:, 0], g[:, 1], color='#0c820c', lw=0.9, zorder=5)
    for seg in blue:
        s = np.array(seg)
        ax.plot(s[:, 0], s[:, 1], color='#1010ee', lw=0.9, zorder=6)
    for seg in style:
        s = np.array(seg)
        w = 5.2 if len(s) > 2 or abs(s[-1, 1] - s[0, 1]) > 0.5 else 4.6
        ax.plot(s[:, 0], s[:, 1], color='black', lw=w, solid_capstyle='butt', solid_joinstyle='miter', zorder=7)
    for t, v in marks:
        ax.plot(t, v, marker='o', ms=11, mfc='none', mec=RED, mew=1.2, zorder=8)
        ax.plot(t, v, marker='x', ms=5.5, mec=RED, mew=1.2, zorder=8)

    tier_labels(ax, t0, phone_t, phones, 77.9)
    tier_labels(ax, t0, word_t, words, 71.9)

    # 150 Hz reference
    ax.annotate('', xy=(t0 + 0.004, REF_150HZ), xytext=(t0 + 0.05, REF_150HZ),
                arrowprops=dict(arrowstyle='-|>', color='red', lw=1.0, mutation_scale=13,
                                shrinkA=0, shrinkB=0), zorder=8)
    ax.text(-0.004, REF_150HZ, '150 Hz', transform=ax.get_yaxis_transform(), ha='right', va='center',
            color='red', fontsize=10.2)

    # axes
    ax.xaxis.set_ticks_position('top')
    ax.set_xticks([t0, t0 + 1, t0 + 2, t0 + 3])
    ax.set_xticklabels([str(t0 + i) for i in range(4)])
    ax.xaxis.set_minor_locator(MultipleLocator(0.1))
    ax.tick_params(axis='x', which='both', direction='out', length=6, width=1.1, top=True, bottom=False,
                   labeltop=True, labelbottom=False, labelsize=18, pad=3)
    ax.set_yticks([70, 80, 90, 100])
    ax.tick_params(axis='y', direction='out', length=6, width=1.1, left=True, right=False, labelsize=18, pad=1)
    for sp in ax.spines.values():
        sp.set_linewidth(1.6)

    ax.text(0.996, 0.99, 'G=0.32 / T$^2$ SEGM=vnuclei', transform=ax.transAxes, ha='right', va='top',
            fontsize=10.5, zorder=9)
    ax.text(0.001, -0.012, 'Groult', transform=ax.transAxes, ha='left', va='top', fontsize=10.5)
    ax.text(0.999, -0.006, 'Prosogram v1.4.1', transform=ax.transAxes, ha='right', va='top', fontsize=7)


fig = plt.figure(figsize=(12.26, 13.55), dpi=100)
W, H = 1226.0, 1355.0
for k, p in enumerate(panels):
    top_px = 48.3 + 268.75 * k
    bot_px = 266.7 + 268.75 * k
    ax = fig.add_axes([61 / W, 1 - bot_px / H, 1134 / W, (bot_px - top_px) / H])
    draw_panel(ax, *p)

fig.savefig('out.png', dpi=100)
